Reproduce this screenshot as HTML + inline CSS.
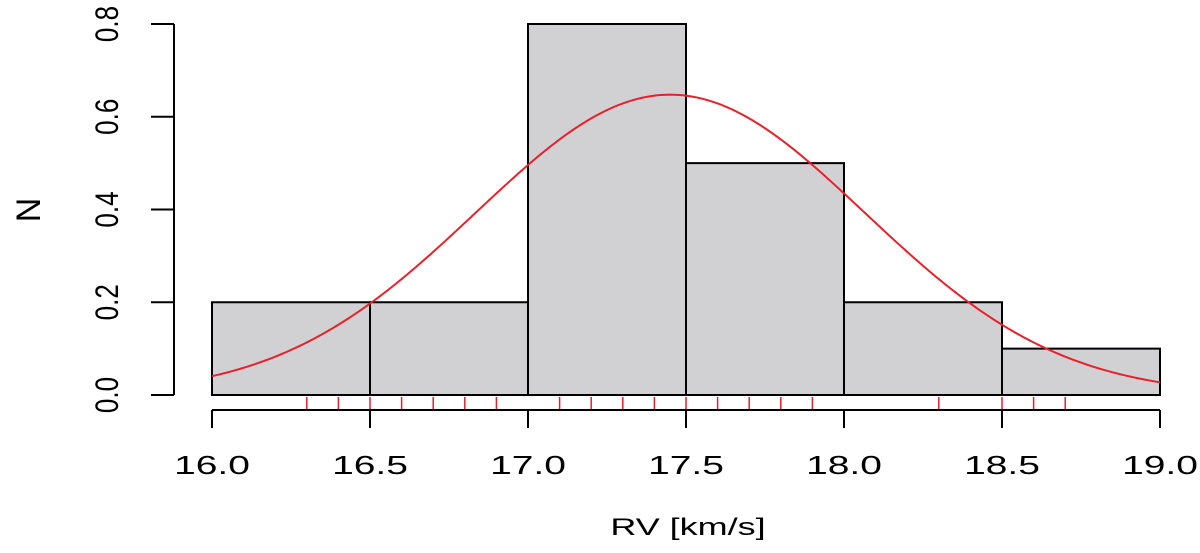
<!DOCTYPE html>
<html><head><meta charset="utf-8"><style>
html,body{margin:0;padding:0;background:#fff;}
svg{display:block;font-family:"Liberation Sans",Arial,sans-serif;}
</style></head><body>
<svg id="chart" width="1200" height="553" viewBox="0 0 1200 553" xmlns="http://www.w3.org/2000/svg">
<g id="bars"></g>
<g id="rug"></g>
<path id="curve" fill="none" stroke="#e8202a" stroke-width="2"/>
<g id="xaxis"></g>
<g id="yaxis"></g>
<text transform="translate(688,535) scale(1.5,1)" text-anchor="middle" font-size="24">RV [km/s]</text>
<text transform="translate(40,210) rotate(-90)" text-anchor="middle" font-size="34">N</text>
</svg>
<script>
const binEdges = [16.0, 16.5, 17.0, 17.5, 18.0, 18.5, 19.0];
const densities = [0.2, 0.2, 0.8, 0.5, 0.2, 0.1];
const rugValues = [16.3,16.4,16.5,16.6,16.7,16.8,16.9,17.1,17.2,17.3,17.4,17.5,17.6,17.7,17.8,17.9,18.3,18.5,18.6,18.7];
const fitMean = 17.45;
const fitSd = 0.616;
const xTicks = [16.0,16.5,17.0,17.5,18.0,18.5,19.0];
const xTickLabels = ["16.0","16.5","17.0","17.5","18.0","18.5","19.0"];
const yTicks = [0,0.2,0.4,0.6,0.8];
const yTickLabels = ["0.0","0.2","0.4","0.6","0.8"];

const NS="http://www.w3.org/2000/svg";
const X = v => 212 + (v-16)*316;
const Y = v => 395 - v*463.75;
function mk(tag, attrs, parent){const e=document.createElementNS(NS,tag);for(const k in attrs)e.setAttribute(k,attrs[k]);parent.appendChild(e);return e;}

const bars=document.getElementById('bars');
densities.forEach((d,i)=>{
  const x0=X(binEdges[i]), x1=X(binEdges[i+1]);
  const r=mk('rect',{x:x0,y:Y(d),width:x1-x0,height:Y(0)-Y(d),fill:'#d1d1d4',stroke:'#000','stroke-width':2},bars);
  
  
});
const rug=document.getElementById('rug');
rugValues.forEach(v=>{
  const l=mk('line',{x1:X(v),x2:X(v),y1:397,y2:410,stroke:'#e8202a','stroke-width':1.5},rug);
  
  
});
let d='';
for(let i=0;i<=300;i++){
  const v=16+3*i/300;
  const y=Math.exp(-Math.pow(v-fitMean,2)/(2*fitSd*fitSd))/(fitSd*Math.sqrt(2*Math.PI));
  d+=(i?'L':'M')+X(v).toFixed(2)+','+Y(y).toFixed(2);
}
document.getElementById('curve').setAttribute('d',d);

const xa=document.getElementById('xaxis');
mk('line',{x1:X(xTicks[0]),x2:X(xTicks[xTicks.length-1]),y1:410,y2:410,stroke:'#000','stroke-width':2},xa);
xTicks.forEach((v,i)=>{
  mk('line',{x1:X(v),x2:X(v),y1:410,y2:428,stroke:'#000','stroke-width':2},xa);
  const t=mk('text',{transform:`translate(${X(v)},474) scale(1.5,1)`,'text-anchor':'middle','font-size':26},xa);
  t.textContent=xTickLabels[i];
  
  
});
const ya=document.getElementById('yaxis');
mk('line',{x1:174,x2:174,y1:Y(yTicks[0]),y2:Y(yTicks[yTicks.length-1]),stroke:'#000','stroke-width':2},ya);
yTicks.forEach((v,i)=>{
  mk('line',{x1:151,x2:174,y1:Y(v),y2:Y(v),stroke:'#000','stroke-width':2},ya);
  const t=mk('text',{transform:`translate(118,${Y(v)}) rotate(-90) scale(1,1.25)`,'text-anchor':'middle','font-size':26},ya);
  t.textContent=yTickLabels[i];
  
  
});
</script>
</body></html>
